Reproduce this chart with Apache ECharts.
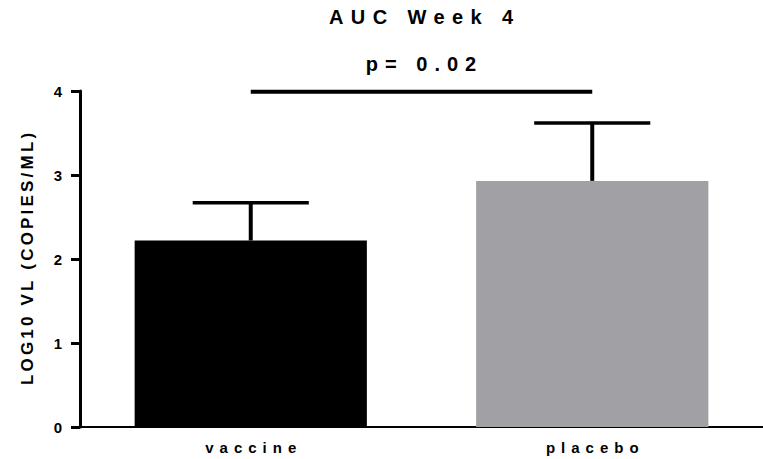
<!DOCTYPE html>
<html>
<head>
<meta charset="utf-8">
<script src="https://cdn.jsdelivr.net/npm/echarts@6/dist/echarts.min.js"></script>
<style>
html,body{margin:0;padding:0;background:#fff;}
#chart{width:763px;height:459px;}
</style>
</head>
<body>
<div id="chart"></div>
<script>
// ---- data ----
const categories = ['vaccine', 'placebo'];
const means = [2.22, 2.93];
const errUpper = [0.45, 0.69];
const barColors = ['#000000', '#a1a0a5'];
const yTicks = [0, 1, 2, 3, 4];
const sigPair = [0, 1];
const sigValue = 3.99;
const titleText = 'AUC Week 4';
const pText = 'p= 0.02';
const yName = 'LOG10 VL (COPIES/ML)';

// letter spacing (px) for spaced-out texts
const spacing = {};
spacing[titleText] = 7.4;
spacing[pText] = 7.0;
spacing[yName] = 3.2;
spacing[categories[0]] = 6.0;
spacing[categories[1]] = 6.0;

const FONT = 'Liberation Sans, Arial, sans-serif';

const chart = echarts.init(document.getElementById('chart'), null, { renderer: 'svg' });

const option = {
  animation: false,
  backgroundColor: '#ffffff',
  grid: { left: 80, right: 0, top: 91, bottom: 32, containLabel: false },
  graphic: [
    { type: 'text', x: 421, y: 7, style: { text: titleText, font: 'bold 20px ' + FONT, fill: '#000', textAlign: 'center' } },
    { type: 'text', x: 421, y: 54, style: { text: pText, font: 'bold 20px ' + FONT, fill: '#000', textAlign: 'center' } }
  ],
  xAxis: {
    type: 'category',
    data: categories,
    axisLine: { lineStyle: { color: '#000', width: 2 } },
    axisTick: { alignWithLabel: true, length: 6, lineStyle: { color: '#000', width: 3 } },
    axisLabel: { color: '#000', fontWeight: 'bold', fontSize: 15, fontFamily: FONT, margin: 13 }
  },
  yAxis: {
    type: 'value',
    min: 0, max: 4, interval: 1,
    name: yName,
    nameLocation: 'middle',
    nameGap: 44,
    nameTextStyle: { color: '#000', fontWeight: 'bold', fontSize: 17, fontFamily: FONT },
    axisLine: { show: true, lineStyle: { color: '#000', width: 3 } },
    axisTick: { show: true, length: 9, lineStyle: { color: '#000', width: 3 } },
    axisLabel: { color: '#000', fontWeight: 'bold', fontSize: 15, fontFamily: FONT, margin: 18,
      formatter: function (v) { return yTicks.indexOf(v) >= 0 ? String(v) : ''; } },
    splitLine: { show: false }
  },
  series: [
    {
      type: 'bar',
      barWidth: '68%',
      data: means.map(function (v, i) { return { value: v, itemStyle: { color: barColors[i] } }; }),
      z: 2
    },
    {
      type: 'custom',
      z: 3,
      data: means.map(function (v, i) { return [i, v, v + errUpper[i]]; }),
      renderItem: function (params, api) {
        const base = api.coord([api.value(0), api.value(1)]);
        const top = api.coord([api.value(0), api.value(2)]);
        const band = api.size([1, 0])[0];
        const half = band * 0.68 * 0.25;
        return {
          type: 'group',
          children: [
            { type: 'line', shape: { x1: base[0], y1: base[1], x2: top[0], y2: top[1] }, style: { stroke: '#000', lineWidth: 4 } },
            { type: 'line', shape: { x1: top[0] - half, y1: top[1], x2: top[0] + half, y2: top[1] }, style: { stroke: '#000', lineWidth: 3.5 } }
          ]
        };
      }
    },
    {
      type: 'custom',
      z: 3,
      data: [[sigPair[0], sigPair[1], sigValue]],
      renderItem: function (params, api) {
        const a = api.coord([api.value(0), api.value(2)]);
        const b = api.coord([api.value(1), api.value(2)]);
        return { type: 'line', shape: { x1: a[0], y1: a[1], x2: b[0], y2: b[1] }, style: { stroke: '#000', lineWidth: 4 } };
      }
    }
  ]
};

chart.setOption(option);

function applySpacing() {
  const texts = document.querySelectorAll('#chart text');
  texts.forEach(function (t) {
    const s = spacing[t.textContent];
    if (s && !t.getAttribute('data-sp')) {
      t.setAttribute('data-sp', '1');
      t.style.letterSpacing = s + 'px';
      const anchor = t.getAttribute('text-anchor') || 'start';
      if (anchor === 'middle') t.setAttribute('dx', String(s / 2));
      else if (anchor === 'end') t.setAttribute('dx', String(s));
    }
  });
}
applySpacing();
chart.on('finished', applySpacing);
setTimeout(applySpacing, 50);
</script>
</body>
</html>
